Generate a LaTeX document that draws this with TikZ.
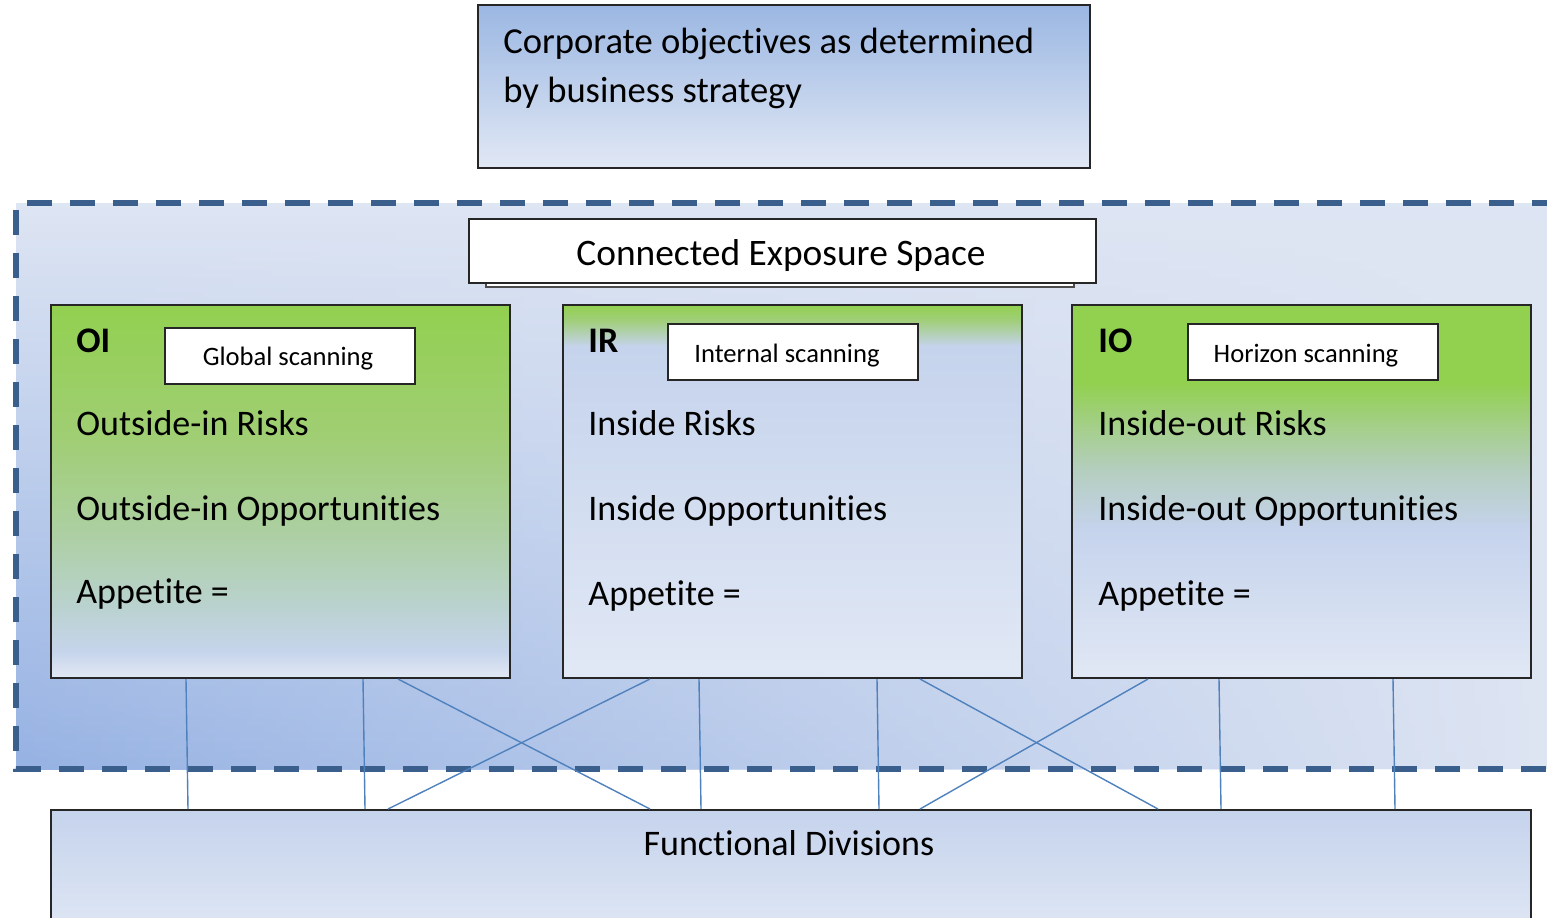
\documentclass[tikz,border=0pt]{standalone}
\usepackage{fontspec}
\setmainfont[Ligatures=NoCommon]{Carlito}
\usetikzlibrary{calc,fadings}

\definecolor{grn}{RGB}{146,208,80}
\definecolor{blueA}{RGB}{197,211,236}
\definecolor{blueL}{RGB}{225,232,245}
\definecolor{blueTop}{RGB}{155,183,226}
\definecolor{regDark}{RGB}{150,178,227}
\definecolor{regLight}{RGB}{222,229,243}
\definecolor{dashc}{RGB}{59,95,140}
\definecolor{connc}{RGB}{79,129,189}
\definecolor{oiA}{RGB}{160,206,115}
\definecolor{oiB}{RGB}{172,207,160}
\definecolor{oiC}{RGB}{185,210,205}
\definecolor{oiD}{RGB}{198,212,236}
\definecolor{oiE}{RGB}{215,224,240}
\definecolor{irA}{RGB}{160,206,120}
\definecolor{ioA}{RGB}{165,207,140}
\definecolor{ioB}{RGB}{180,206,190}

\pgfdeclareverticalshading{oishade}{100bp}{color(0bp)=(blueL); color(25bp)=(blueL); color(26.5bp)=(oiE); color(28.5bp)=(oiD); color(35bp)=(oiC); color(45bp)=(oiB); color(57.5bp)=(oiA); color(75bp)=(grn); color(100bp)=(grn)}
\pgfdeclareverticalshading{irshade}{100bp}{color(0bp)=(blueL); color(25bp)=(blueL); color(69.5bp)=(blueA); color(73bp)=(irA); color(75bp)=(grn); color(100bp)=(grn)}
\pgfdeclareverticalshading{ioshade}{100bp}{color(0bp)=(blueL); color(25bp)=(blueL); color(45bp)=(blueA); color(53bp)=(ioB); color(58.5bp)=(ioA); color(64.5bp)=(grn); color(75bp)=(grn); color(100bp)=(grn)}

\tikzfading[name=regfade, left color=transparent!0, middle color=transparent!30, right color=transparent!100]

\tikzset{
  frame/.style={draw=black!85, line width=1pt, rectangle, inner sep=0pt},
  bigbox/.style={frame, minimum width=229.5pt, minimum height=186.5pt},
  scanbox/.style={frame, fill=white, minimum width=125pt, minimum height=28pt},
  txt/.style={inner sep=0pt, anchor=base west, font=\fontsize{18}{21.6}\selectfont},
  lbl/.style={inner sep=0pt, anchor=base west, font=\fontsize{18}{21.6}\selectfont\bfseries},
  scantxt/.style={inner sep=0pt, anchor=base, font=\fontsize{13.3}{16}\selectfont},
  conn/.style={draw=connc, line width=0.7pt},
  dashframe/.style={draw=dashc, line width=2.8pt, dash pattern=on 12.5pt off 9pt}
}

\begin{document}
\begin{tikzpicture}[x=0.5pt, y=-0.5pt]
\useasboundingbox (0,0) rectangle (1547,917);
\clip (0,0) rectangle (1547,917);
\fill[white] (0,0) rectangle (1547,917);

% top box
\node[frame, top color=blueTop, bottom color=blueL, minimum width=306pt, minimum height=81.5pt] (top) at (784,86.5) {};
\node[txt, font=\fontsize{18.3}{22}\selectfont] (toptxt1) at (503,53) {Corporate objectives as determined};
\node[txt, font=\fontsize{18.3}{22}\selectfont] (toptxt2) at (503,102) {by business strategy};

% exposure region
\fill[regLight] (16,203) rectangle (1547,769);
\shade[top color=regLight, bottom color=regDark, path fading=regfade] (16,203) rectangle (1547,769);
\draw[dashframe] (1600,203) -- (16,203) -- (16,769) -- (1600,769);

% connected exposure space
\node[draw=black!70, line width=1pt, fill=white, minimum width=294pt, minimum height=32.5pt, inner sep=0pt] (cesshadow) at (780,254.5) {};
\node[frame, fill=white, minimum width=313.5pt, minimum height=32pt] (ces) at (782,251) {};
\node[inner sep=0pt, anchor=base, font=\fontsize{18.7}{22}\selectfont] (cestxt) at (781,265) {Connected Exposure Space};

% three boxes
\node[bigbox, shading=oishade] (oi) at (280.5,491.5) {};
\node[bigbox, shading=irshade] (ir) at (792,491.5) {};
\node[bigbox, shading=ioshade] (io) at (1301.5,491.5) {};

% OI
\node[lbl] (oilbl) at (76,352) {OI};
\node[scanbox] (oiscan) at (289.5,356) {};
\node[scantxt] (oiscantxt) at (288,365) {Global scanning};
\node[txt] (oi1) at (76,435) {Outside-in Risks};
\node[txt] (oi2) at (76,520) {Outside-in Opportunities};
\node[txt] (oi3) at (76,603) {Appetite =};

% IR
\node[lbl] (irlbl) at (588,352) {IR};
\node[scanbox] (irscan) at (793,352) {};
\node[scantxt] (irscantxt) at (787,362) {Internal scanning};
\node[txt] (ir1) at (588,435) {Inside Risks};
\node[txt] (ir2) at (588,520) {Inside Opportunities};
\node[txt] (ir3) at (588,605) {Appetite =};

% IO
\node[lbl] (iolbl) at (1098,352) {IO};
\node[scanbox] (ioscan) at (1313,352) {};
\node[scantxt] (ioscantxt) at (1306,362) {Horizon scanning};
\node[txt] (io1) at (1098,435) {Inside-out Risks};
\node[txt] (io2) at (1098,520) {Inside-out Opportunities};
\node[txt] (io3) at (1098,605) {Appetite =};

% functional divisions
\node[frame, top color=blueA, bottom color=blueL, minimum width=740pt, minimum height=65pt] (fd) at (791,875) {};
\node[inner sep=0pt, anchor=base, font=\fontsize{18}{21.6}\selectfont] (fdtxt) at (789,855) {Functional Divisions};

% connectors
\draw[conn] (oi.south -| 186,0) -- (fd.north -| 188,0);
\draw[conn] (oi.south -| 363,0) -- (fd.north -| 365,0);
\draw[conn] (oi.south -| 398,0) -- (fd.north -| 650,0);
\draw[conn] (ir.south -| 650,0) -- (fd.north -| 388,0);
\draw[conn] (ir.south -| 699,0) -- (fd.north -| 701,0);
\draw[conn] (ir.south -| 877,0) -- (fd.north -| 879,0);
\draw[conn] (ir.south -| 920,0) -- (fd.north -| 1158,0);
\draw[conn] (io.south -| 1148,0) -- (fd.north -| 920,0);
\draw[conn] (io.south -| 1219,0) -- (fd.north -| 1221,0);
\draw[conn] (io.south -| 1393,0) -- (fd.north -| 1395,0);
\end{tikzpicture}
\end{document}
